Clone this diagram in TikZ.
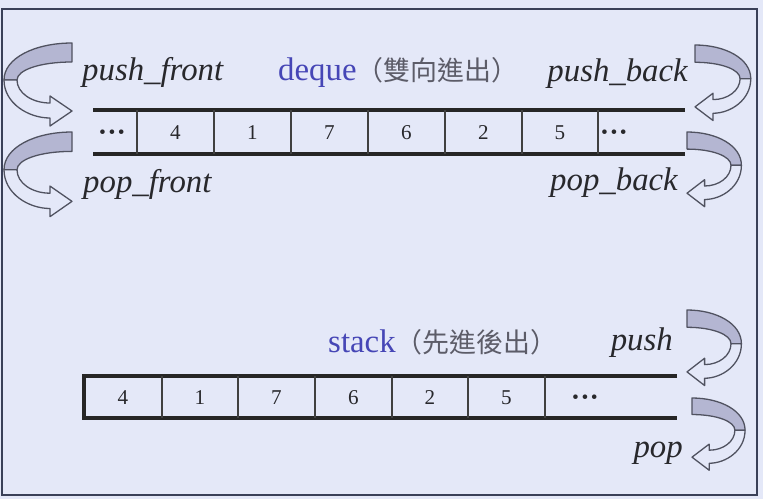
\documentclass[tikz,border=0pt]{standalone}
\usepackage{fontspec}
\setmainfont{Liberation Serif}
\newfontfamily\cjk{Noto Sans CJK TC}
\usepackage{tikz}
\definecolor{bg}{RGB}{228,232,248}
\definecolor{frame}{RGB}{58,64,88}
\definecolor{arrowback}{RGB}{180,182,210}
\definecolor{arrowline}{RGB}{80,82,96}
\definecolor{dqblue}{RGB}{70,70,182}
\definecolor{cjkgrey}{RGB}{92,92,104}
\definecolor{label}{RGB}{40,40,44}

% curved ribbon arrow: top end at (#1,#2), mirrored/scaled by #3,#4
\newcommand{\bendarrow}[4]{%
  \begin{scope}[shift={(#1,#2)},xscale=#3,yscale=#4]
    \draw[arrowline,line width=1.1pt,fill=arrowback,line join=round]
      (0,0) .. controls (-37,0) and (-68,15) .. (-68,37) -- (-55,37)
      .. controls (-55,27) and (-32,19) .. (0,19) -- cycle;
    \draw[arrowline,line width=1.1pt,fill=bg,line join=round]
      (-68,37) .. controls (-68,60) and (-44,75) .. (-22,75) -- (-22,83) -- (0,68)
      -- (-22,53) -- (-22,60) .. controls (-40,60) and (-55,50) .. (-55,37) -- cycle;
  \end{scope}}
\newcommand{\celldots}{{\fontsize{24}{26}\selectfont\bfseries ···}}

\begin{document}
\begin{tikzpicture}[x=0.03cm,y=-0.03cm,
  lbl/.style={inner sep=0pt,text=label,font=\fontsize{28}{30}\selectfont\itshape},
  cell/.style={inner sep=0pt,anchor=base,text=label,font=\fontsize{18}{20}\selectfont},
  bar/.style={line width=3.4pt,draw=black!85},
  sep/.style={line width=1pt,draw=black!75}]
  \useasboundingbox (0,0) rectangle (763,499);
  \fill[bg] (0,0) rectangle (763,499);
  \draw[frame,line width=1.8pt] (2,9) rectangle (757,495);

  % deque
  \draw[bar] (93,110) -- (685,110);
  \draw[bar] (93,154) -- (685,154);
  \draw[sep] (137,110) -- (137,154);
  \draw[sep] (214,110) -- (214,154);
  \draw[sep] (291,110) -- (291,154);
  \draw[sep] (368,110) -- (368,154);
  \draw[sep] (445,110) -- (445,154);
  \draw[sep] (522,110) -- (522,154);
  \draw[sep] (598,110) -- (598,154);
  \node at (112,141) (d0) [cell] {\celldots};
  \node at (175.5,139) (d1) [cell] {4};
  \node at (252.5,139) (d2) [cell] {1};
  \node at (329.5,139) (d3) [cell] {7};
  \node at (406.5,139) (d4) [cell] {6};
  \node at (483.5,139) (d5) [cell] {2};
  \node at (560,139) (d6) [cell] {5};
  \node at (614,141) (d7) [cell] {\celldots};

  \node at (82,80) (pushfront) [lbl,anchor=base west] {push\_front};
  \node at (83,192) (popfront) [lbl,anchor=base west] {pop\_front};
  \node at (688,81) (pushback) [lbl,anchor=base east] {push\_back};
  \node at (678,190) (popback) [lbl,anchor=base east] {pop\_back};
  \node at (278,80) (dequetitle) [lbl,anchor=base west,font=\fontsize{28}{30}\selectfont]
    {\textcolor{dqblue}{deque}{\cjk\fontsize{23}{25}\selectfont\color{cjkgrey}（雙向進出）}};

  \bendarrow{72}{43}{1}{1}
  \bendarrow{72}{132}{1}{1.02}
  \bendarrow{695}{45}{-0.82}{0.91}
  \bendarrow{687}{132}{-0.8}{0.9}

  % stack
  \draw[bar,line join=miter] (677,376) -- (84,376) -- (84,418) -- (677,418);
  \draw[sep] (162,376) -- (162,418);
  \draw[sep] (238,376) -- (238,418);
  \draw[sep] (315,376) -- (315,418);
  \draw[sep] (392,376) -- (392,418);
  \draw[sep] (468,376) -- (468,418);
  \draw[sep] (545,376) -- (545,418);
  \node at (123,404) (s1) [cell] {4};
  \node at (200,404) (s2) [cell] {1};
  \node at (276.5,404) (s3) [cell] {7};
  \node at (353.5,404) (s4) [cell] {6};
  \node at (430,404) (s5) [cell] {2};
  \node at (506.5,404) (s6) [cell] {5};
  \node at (585,406) (s7) [cell] {\celldots};

  \node at (328,352) (stacktitle) [lbl,anchor=base west,font=\fontsize{28}{30}\selectfont]
    {\textcolor{dqblue}{stack}{\cjk\fontsize{23}{25}\selectfont\color{cjkgrey}（先進後出）}};
  \node at (673,350) (push) [lbl,anchor=base east] {push};
  \node at (683,457) (pop) [lbl,anchor=base east] {pop};

  \bendarrow{687}{310}{-0.8}{0.91}
  \bendarrow{692}{398}{-0.78}{0.87}
\end{tikzpicture}
\end{document}
